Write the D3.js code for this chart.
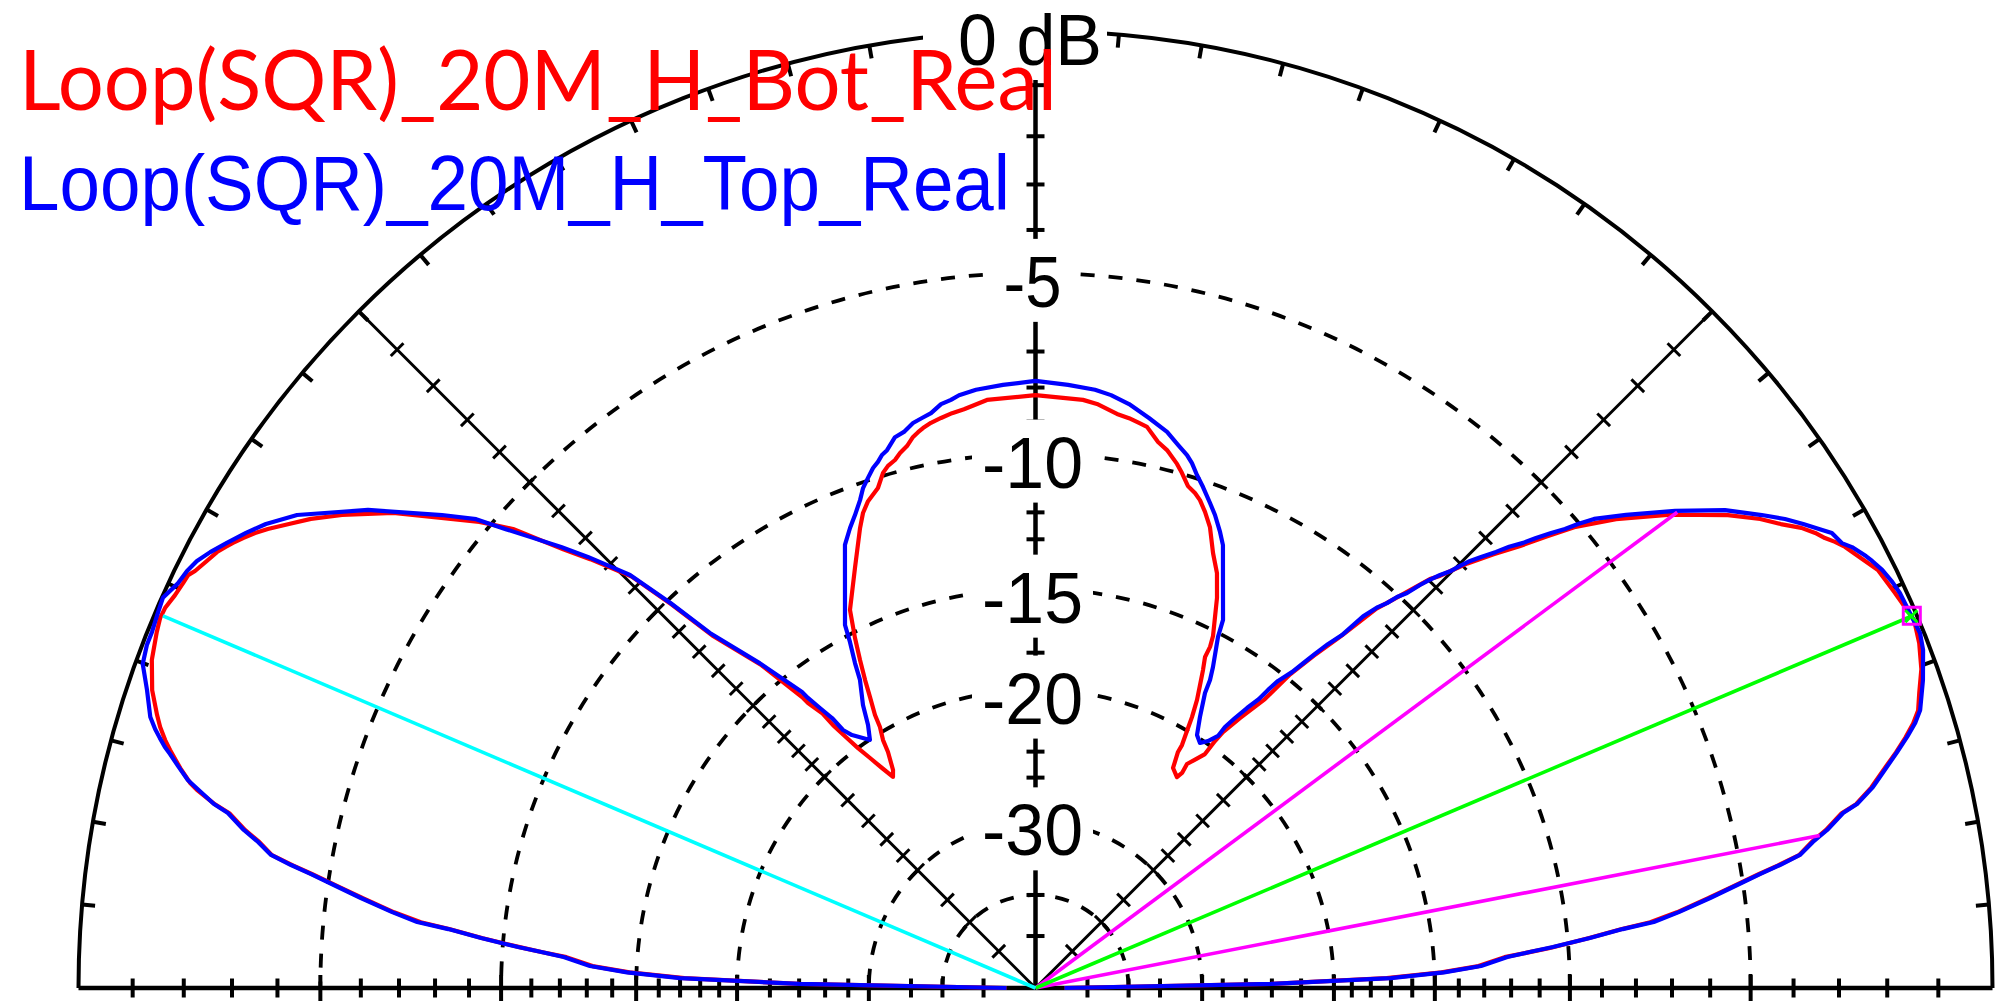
<!DOCTYPE html>
<html>
<head>
<meta charset="utf-8">
<script src="https://cdn.jsdelivr.net/npm/d3@7"></script>
<style>
  html, body { margin: 0; padding: 0; background: #ffffff; overflow: hidden; }
  svg { display: block; }
</style>
</head>
<body>
<svg id="chart" width="2005" height="1003"></svg>
<script>
// ---- Trace names and colours ----
const traceNames  = ["Loop(SQR)_20M_H_Bot_Real", "Loop(SQR)_20M_H_Top_Real"];
const traceColors = ["#ff0000", "#0000ff"];

// ---- Elevation pattern, [elevation angle in degrees, gain in dB rel. max] ----
const botTrace = [
  [0,-60],[1,-24],[1.6,-17.2],[2.2,-14.7],[2.83,-13.2],[3.76,-12.2],[4.45,-10.6],[5.15,-9.35],
  [5.73,-8.35],[6.1,-7.5],[6.73,-6.75],[7.6,-5.9],[8.24,-5.3],[8.94,-4.6],[9.38,-4.12],
  [9.87,-3.62],[10.64,-3.3],[11.29,-2.95],[12.23,-2.55],[12.62,-2.22],[13.5,-1.84],
  [14.55,-1.48],[15.32,-1.2],[16.07,-0.95],[16.77,-0.74],[17.45,-0.58],[18.46,-0.46],
  [19.8,-0.28],[21.33,-0.15],[22.73,-0.08],[24.68,-0.2],[26.39,-0.3],[27.71,-0.51],
  [28.58,-0.64],[29.16,-0.76],[29.68,-0.89],[30.27,-1.0],[31.0,-1.18],[31.9,-1.48],
  [32.91,-1.77],[34.33,-2.27],[36.7,-3.25],[38.93,-4.27],[39.87,-4.79],[40.54,-5.15],
  [41.43,-5.8],[42.39,-6.5],[43.44,-7.15],[44.5,-7.85],[45.59,-8.7],[46.03,-8.95],
  [47.24,-10.1],[48.05,-10.8],[49.03,-12.35],[50.06,-13.6],[50.93,-14.8],[51.55,-16.36],
  [52.86,-17.83],[53.78,-18.95],[53.99,-19.61],[54.08,-20.56],[54.97,-21.12],[55.93,-21.69],
  [55.73,-22.35],[56.15,-22.77],[57.99,-22.4],[58.88,-21.36],[58.91,-20.87],[59.48,-20.01],
  [59.99,-19.19],[60.72,-18.26],[61.5,-17.52],[62.22,-16.81],[62.88,-16.22],[62.9,-15.71],
  [63.24,-15.22],[65.05,-13.72],[66.38,-12.84],[67.8,-12.21],[69.27,-11.39],[70.4,-10.96],
  [71.37,-10.64],[72.14,-10.47],[73.1,-10.32],[74.12,-9.97],[74.89,-9.73],[76.26,-9.39],
  [77.35,-9.21],[78.76,-8.83],[79.62,-8.76],[80.68,-8.67],[81.92,-8.6],[83.99,-8.38],
  [85.38,-8.3],[90,-8.22],[94.72,-8.3],[97.04,-8.5],[98.26,-8.57],[99.41,-8.66],
  [100.48,-8.75],[101.36,-8.86],[101.93,-8.95],[102.53,-9.06],[103.34,-9.29],[104.21,-9.45],
  [104.9,-9.62],[105.78,-9.74],[106.49,-9.91],[107.49,-10.33],[108.98,-10.64],[109.96,-10.96],
  [110.88,-11.41],[113.26,-12.68],[116.14,-14.09],[117.28,-15.24],[118.15,-16.22],
  [118.96,-17.17],[119.63,-18.03],[120.45,-18.98],[120.79,-19.69],[121.59,-20.43],
  [122.01,-21.2],[123.17,-22.34],[124.03,-22.72],[124.9,-21.83],[125.73,-20.89],
  [126.49,-20.0],[127.02,-19.17],[127.6,-18.18],[127.83,-17.35],[128.6,-16.56],
  [128.74,-16.17],[130.32,-14.0],[132.52,-11.9],[133.48,-10.2],[134.47,-8.7],[136.08,-7.5],
  [137.09,-6.8],[138.7,-5.48],[140.03,-4.75],[141.45,-4.1],[143.5,-3.1],[145.7,-2.25],
  [147.08,-1.77],[148.14,-1.46],[149.12,-1.16],[149.76,-0.99],[150.41,-0.84],[150.99,-0.72],
  [151.45,-0.63],[151.96,-0.54],[152.74,-0.45],[153.61,-0.34],[154.02,-0.26],[154.59,-0.24],
  [155.46,-0.2],[156.42,-0.13],[157.09,-0.12],[157.94,-0.16],[159.63,-0.26],[161.36,-0.45],
  [162.74,-0.68],[163.4,-0.8],[164.1,-0.96],[164.62,-1.1],[165.58,-1.38],[166.37,-1.64],
  [166.71,-1.8],[167.38,-2.22],[167.77,-2.55],[168.71,-2.95],[169.36,-3.3],[170.13,-3.62],
  [170.62,-4.12],[171.06,-4.6],[171.76,-5.3],[172.4,-5.9],[173.27,-6.75],[173.9,-7.5],
  [174.27,-8.35],[174.85,-9.35],[175.47,-10.55],[175.84,-11.3],[176.24,-12.2],[177.17,-13.2],
  [177.8,-14.7],[178.4,-17.2],[179,-24],[180,-60]
];

const topTrace = [
  [0,-60],[1,-24],[1.6,-17],[2.2,-14.6],[2.83,-13.1],[3.76,-12.1],[4.16,-11.3],[4.53,-10.5],
  [5.15,-9.3],[5.73,-8.3],[6.1,-7.4],[6.73,-6.7],[7.6,-5.85],[8.24,-5.25],[8.94,-4.57],
  [9.38,-4.08],[9.87,-3.6],[10.64,-3.27],[11.29,-2.92],[12.23,-2.52],[12.62,-2.2],
  [13.5,-1.81],[14.55,-1.45],[15.32,-1.18],[16.07,-0.92],[16.77,-0.7],[17.45,-0.54],
  [19.13,-0.32],[20.85,-0.13],[21.87,-0.07],[23.2,-0.1],[24.56,-0.12],[25.36,-0.16],
  [26.28,-0.23],[27.04,-0.32],[27.48,-0.38],[28.37,-0.53],[28.89,-0.66],[29.74,-0.73],
  [30.33,-0.89],[31.15,-1.11],[32.04,-1.36],[33.07,-1.7],[34.73,-2.26],[36.72,-3.12],
  [38.7,-4.03],[40.02,-4.66],[40.54,-5.03],[40.92,-5.35],[41.43,-5.67],[41.96,-6.04],
  [42.39,-6.37],[42.97,-6.71],[43.44,-7.06],[44.05,-7.45],[44.5,-7.75],[44.83,-8.05],
  [45.11,-8.34],[45.59,-8.65],[46.03,-8.99],[46.35,-9.29],[46.75,-9.75],[47.24,-10.06],
  [47.6,-10.43],[48.05,-10.73],[48.6,-11.3],[49.03,-12.3],[49.63,-12.9],[50.06,-13.46],
  [50.5,-14.1],[50.93,-14.68],[51.7,-15.35],[52.04,-15.94],[52.28,-16.53],[52.93,-17.22],
  [53.54,-17.98],[54.02,-18.67],[54.09,-19.28],[55.07,-19.84],[56.13,-20.19],[57.45,-19.9],
  [58.74,-18.97],[60.12,-17.75],[60.46,-17.07],[61.06,-16.46],[62.53,-15.16],[63.0,-14.42],
  [65.21,-13.06],[67.06,-11.81],[67.97,-11.42],[69.22,-10.94],[70.21,-10.62],[71.51,-10.2],
  [72.53,-9.89],[73.4,-9.58],[74.13,-9.38],[75.3,-9.15],[76.69,-8.85],[78.74,-8.56],
  [80.9,-8.26],[82.74,-8.08],[84.32,-7.98],[86.91,-7.9],[90,-7.81],[93.09,-7.9],[95.68,-7.98],
  [97.35,-8.08],[98.18,-8.18],[99.19,-8.26],[100.3,-8.47],[101.26,-8.56],[102.23,-8.65],
  [103.31,-8.85],[104.31,-8.94],[105.43,-9.26],[106.07,-9.36],[106.67,-9.53],[107.35,-9.67],
  [108.18,-9.92],[109.03,-10.18],[109.78,-10.52],[110.89,-10.93],[111.96,-11.28],
  [113.27,-11.76],[115.3,-13.11],[117.69,-14.55],[118.2,-15.29],[119.05,-16.23],
  [119.67,-17.04],[121.37,-18.2],[122.49,-19.25],[123.72,-20.01],[125.96,-19.21],
  [126.73,-18.7],[127.0,-17.86],[127.59,-17.1],[128.11,-16.37],[128.27,-15.99],[130.32,-13.9],
  [132.52,-11.78],[133.48,-10.11],[134.47,-8.63],[135.3,-8.01],[136.08,-7.41],[137.09,-6.7],
  [138.15,-6.0],[139.13,-5.33],[140.03,-4.65],[141.45,-3.98],[144.39,-2.63],[147.36,-1.5],
  [148.91,-1.08],[150.04,-0.84],[151.17,-0.62],[152.16,-0.43],[153.02,-0.29],[153.83,-0.21],
  [154.72,-0.16],[155.91,-0.02],[156.99,-0.05],[158.05,-0.08],[158.89,-0.08],[160.05,-0.13],
  [161.46,-0.36],[162.98,-0.57],[163.61,-0.72],[164.06,-0.85],[164.53,-0.99],[164.87,-1.12],
  [165.49,-1.33],[166.21,-1.58],[166.4,-1.68],[167.38,-2.2],[167.77,-2.52],[168.71,-2.92],
  [169.36,-3.27],[170.13,-3.6],[170.62,-4.08],[171.06,-4.57],[171.76,-5.25],[172.4,-5.85],
  [173.27,-6.7],[173.9,-7.4],[174.27,-8.3],[174.85,-9.3],[175.47,-10.5],[175.84,-11.3],
  [176.24,-12.1],[177.17,-13.1],[177.8,-14.6],[178.4,-17],[179,-24],[180,-60]
];

// ---- Cursor lines: lobe maxima and half-power points ----
const peakLines = [
  { elev: 23.0,  db: -0.1,  color: "#00ff00" },
  { elev: 156.9, db: -0.15, color: "#00ffff" }
];
const halfPowerLines = [
  { elev: 11.0,  db: -3.1 },
  { elev: 36.55, db: -3.1 }
];

// ---- Grid ----
const ringDb     = [-5, -10, -15, -20, -30, -40];
const ringLabels = ["-5", "-10", "-15", "-20", "-30"];
const minorTickDb = [-1,-2,-3,-4,-6,-7,-8,-9,-11,-12,-13,-14,-16,-17,-18,-19,-22,-24,-26,-28,-35,-40,-50];
const majorTickDb = [-5, -10, -15, -20, -30];
const elevTicks = [5,10,15,20,25,30,35,40,45,50,55,60,65,70,75,80,85,90,95,100,105,110,115,120,125,130,135,140,145,150,155,160,165,170,175];

// ---- Geometry ----
const cx = 1035.5, cy = 988, R = 957;

// ARRL log scale: radius follows power ratio to the 0.253 power (2 dB per 0.89 step)
const rScale = d3.scalePow().exponent(0.25304).domain([0, 1]).range([0, R]);
const rad = db => rScale(Math.pow(10, db / 10));
// elevation (0..180, counter-clockwise from the right) to lineRadial angle
const aScale = d3.scaleLinear().domain([0, 180]).range([Math.PI / 2, -Math.PI / 2]);
const pt = (elev, r) => {
  const a = elev * Math.PI / 180;
  return [cx + r * Math.cos(a), cy - r * Math.sin(a)];
};

const svg = d3.select("#chart");
const g = svg.append("g");

// dashed dB rings
ringDb.forEach(db => {
  const p = d3.path();
  const r = rad(db);
  p.moveTo(cx + r, cy);
  p.arc(cx, cy, r, 0, -Math.PI, true);
  g.append("path").attr("d", p.toString())
    .attr("fill", "none").attr("stroke", "#000").attr("stroke-width", 3.8)
    .attr("stroke-dasharray", "14 14");
});

// outer 0 dB circle
{
  const p = d3.path();
  p.moveTo(cx + R, cy);
  p.arc(cx, cy, R, 0, -Math.PI, true);
  g.append("path").attr("d", p.toString())
    .attr("fill", "none").attr("stroke", "#000").attr("stroke-width", 4);
}

// elevation ticks on the outer circle
g.selectAll("line.etick").data(elevTicks).join("line")
  .attr("x1", d => pt(d, R)[0]).attr("y1", d => pt(d, R)[1])
  .attr("x2", d => pt(d, R - 13)[0]).attr("y2", d => pt(d, R - 13)[1])
  .attr("stroke", "#000").attr("stroke-width", 4);

// baseline, vertical axis, 45 degree spokes
g.append("line").attr("x1", cx - R).attr("y1", cy).attr("x2", cx + R).attr("y2", cy)
  .attr("stroke", "#000").attr("stroke-width", 4.5);
g.append("line").attr("x1", cx).attr("y1", cy).attr("x2", cx).attr("y2", cy - R)
  .attr("stroke", "#000").attr("stroke-width", 4.5);
[45, 135].forEach(e => {
  const [x2, y2] = pt(e, R);
  g.append("line").attr("x1", cx).attr("y1", cy).attr("x2", x2).attr("y2", y2)
    .attr("stroke", "#000").attr("stroke-width", 3);
});

// dB ticks on axes and spokes
const allTicks = minorTickDb.map(d => ({ db: d, major: false }))
  .concat(majorTickDb.map(d => ({ db: d, major: true })));
allTicks.forEach(t => {
  const r = rad(t.db);
  const h = t.major ? 13 : 9.5;
  // baseline, both sides
  [cx + r, cx - r].forEach(x => {
    g.append("line").attr("x1", x).attr("x2", x).attr("y1", cy - h).attr("y2", cy + h)
      .attr("stroke", "#000").attr("stroke-width", 4);
  });
  // vertical axis
  g.append("line").attr("x1", cx - 9).attr("x2", cx + 9).attr("y1", cy - r).attr("y2", cy - r)
    .attr("stroke", "#000").attr("stroke-width", 4);
  // spokes
  [45, 135].forEach(e => {
    const [px, py] = pt(e, r);
    const a = (e + 90) * Math.PI / 180;
    const dx = 9 * Math.cos(a), dy = -9 * Math.sin(a);
    g.append("line").attr("x1", px - dx).attr("y1", py - dy).attr("x2", px + dx).attr("y2", py + dy)
      .attr("stroke", "#000").attr("stroke-width", 3);
  });
});

// pattern traces
const line = d3.lineRadial()
  .angle(d => aScale(d[0]))
  .radius(d => rad(d[1]));
const traces = g.append("g").attr("transform", `translate(${cx},${cy})`);
[botTrace, topTrace].forEach((data, i) => {
  traces.append("path").datum(data)
    .attr("d", line)
    .attr("fill", "none")
    .attr("stroke", traceColors[i])
    .attr("stroke-width", 4.2)
    .attr("stroke-linejoin", "round");
});

// cursor lines from the origin
halfPowerLines.forEach(l => {
  const [x2, y2] = pt(l.elev, rad(l.db));
  g.append("line").attr("x1", cx).attr("y1", cy).attr("x2", x2).attr("y2", y2)
    .attr("stroke", "#ff00ff").attr("stroke-width", 3.6);
});
peakLines.forEach(l => {
  const [x2, y2] = pt(l.elev, rad(l.db));
  g.append("line").attr("x1", cx).attr("y1", cy).attr("x2", x2).attr("y2", y2)
    .attr("stroke", l.color).attr("stroke-width", 3.6);
});

// small cursor marker at the right-hand maximum
{
  const [mx, my] = pt(peakLines[0].elev, rad(peakLines[0].db));
  g.append("rect").attr("x", mx - 8).attr("y", my - 9).attr("width", 17).attr("height", 17)
    .attr("fill", "none").attr("stroke", "#ff00ff").attr("stroke-width", 3);
  g.append("path").attr("d", `M${mx - 6},${my - 6}L${mx + 6},${my + 6}M${mx - 6},${my + 6}L${mx + 6},${my - 6}`)
    .attr("stroke", "#00ff00").attr("stroke-width", 3);
}

// ring labels on the vertical axis, each on an opaque patch
const labelFont = "'Liberation Sans', Arial, sans-serif";
const lab = g.append("g");
ringLabels.forEach((txt, i) => {
  const y = cy - rad(majorTickDb[i]) + 34;
  const w = txt.length === 2 ? 58 : 101;
  const x0 = cx - 3 - w / 2;
  lab.append("rect").attr("x", x0 - 10).attr("y", y - 53 - 15).attr("width", w + 20).attr("height", 53 + 30)
    .attr("fill", "#fff");
  lab.append("text").attr("x", x0).attr("y", y)
    .attr("font-family", labelFont).attr("font-size", 73)
    .attr("textLength", w).attr("lengthAdjust", "spacingAndGlyphs")
    .attr("fill", "#000").text(txt);
});
// 0 dB label at the top
lab.append("rect").attr("x", 923).attr("y", 0).attr("width", 184).attr("height", 80).attr("fill", "#fff");
lab.append("text").attr("x", 958).attr("y", 65)
  .attr("font-family", labelFont).attr("font-size", 73)
  .attr("textLength", 144).attr("lengthAdjust", "spacingAndGlyphs")
  .attr("fill", "#000").text("0 dB");

// legend
svg.append("text").attr("x", 19).attr("y", 110)
  .attr("font-family", "Lato, 'Open Sans', sans-serif").attr("font-size", 83)
  .attr("textLength", 1038).attr("lengthAdjust", "spacingAndGlyphs")
  .attr("fill", traceColors[0]).text(traceNames[0]);
svg.append("text").attr("x", 19).attr("y", 210)
  .attr("font-family", labelFont).attr("font-size", 77)
  .attr("textLength", 991).attr("lengthAdjust", "spacingAndGlyphs")
  .attr("fill", traceColors[1]).text(traceNames[1]);
</script>
</body>
</html>
